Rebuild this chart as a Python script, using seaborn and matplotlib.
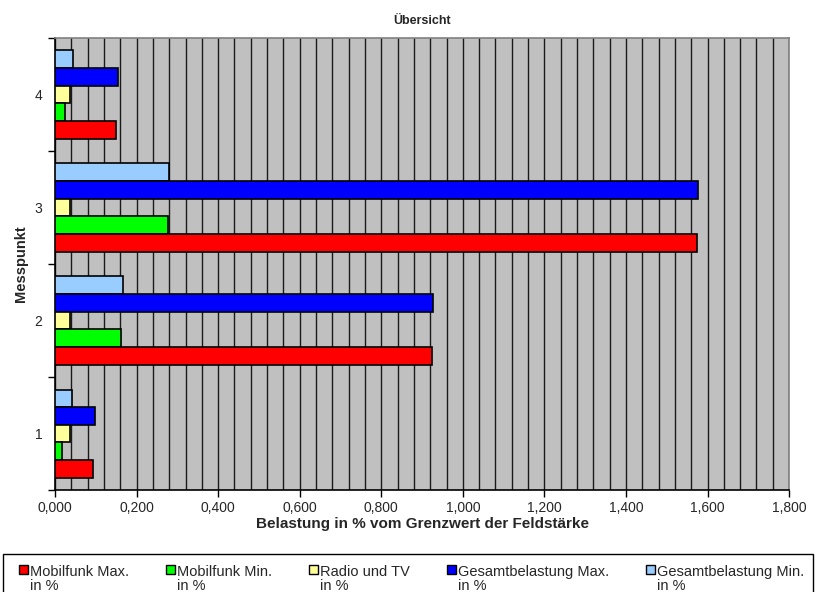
import matplotlib
matplotlib.use('Agg')
import pandas as pd
import numpy as np
import matplotlib.pyplot as plt
import seaborn as sns
from matplotlib.patches import Patch, Rectangle

# data
messpunkte = ['1', '2', '3', '4']
series = ['Mobilfunk Max.\nin %', 'Mobilfunk Min.\nin %', 'Radio und TV\nin %',
          'Gesamtbelastung Max.\nin %', 'Gesamtbelastung Min.\nin %']
mobil_max = [0.092, 0.925, 1.575, 0.149]
mobil_min = [0.016, 0.162, 0.277, 0.024]
radio_tv = [0.037, 0.037, 0.037, 0.036]
gesamt_max = [0.099, 0.927, 1.576, 0.154]
gesamt_min = [0.042, 0.167, 0.280, 0.045]
colors = ['#FF0000', '#00FF00', '#FFFF99', '#0000FF', '#99CCFF']

values = [mobil_max, mobil_min, radio_tv, gesamt_max, gesamt_min]
rows = []
for s, vals in zip(series, values):
    for m, v in zip(messpunkte, vals):
        rows.append({'Messpunkt': m, 'Serie': s, 'Wert': v})
df = pd.DataFrame(rows)

sns.set_style('white')
plt.rcParams['font.family'] = ['Liberation Sans', 'DejaVu Sans']

fig = plt.figure(figsize=(8.16, 5.92), dpi=100)
ax = fig.add_axes([0.0674, 0.172, 0.8996, 0.764])
ax.set_facecolor('#C0C0C0')

palette = dict(zip(series, colors))
sns.barplot(data=df, y='Messpunkt', x='Wert', hue='Serie', orient='h',
            order=messpunkte[::-1], hue_order=series[::-1], palette=palette,
            width=0.78, dodge=True, edgecolor='black', linewidth=1.2,
            saturation=1, errorbar=None, legend=False, ax=ax, zorder=3)

ax.set_xlim(0, 1.8)
ax.set_ylim(3.5, -0.5)
ticks = np.arange(0, 1.81, 0.2)
ax.set_xticks(ticks)
ax.set_xticklabels([f"{v:.3f}".replace('.', ',') for v in ticks], fontsize=10)
ax.set_xticks(np.arange(0, 1.8001, 0.04), minor=True)
ax.xaxis.grid(True, which='both', color='#1a1a1a', linewidth=1.0, zorder=0)
ax.set_axisbelow(True)
ax.tick_params(axis='x', which='major', direction='out', length=5, width=1,
               color='black', bottom=True, pad=2.5)
ax.tick_params(axis='x', which='minor', length=0)

# y ticks between the groups, labels at group centres
ax.set_yticks([-0.5, 0.5, 1.5, 2.5, 3.5])
ax.set_yticklabels([])
ax.set_yticks([0, 1, 2, 3], minor=True)
ax.set_yticklabels(messpunkte[::-1], minor=True, fontsize=10)
ax.tick_params(axis='y', which='major', direction='out', length=5, width=1,
               color='black', left=True)
ax.tick_params(axis='y', which='minor', length=0, pad=9)

for side in ['left', 'bottom']:
    ax.spines[side].set_color('black')
    ax.spines[side].set_linewidth(1.2)
for side in ['top', 'right']:
    ax.spines[side].set_visible(True)
    ax.spines[side].set_color('#808080')
    ax.spines[side].set_linewidth(1.2)

ax.set_title('Übersicht', fontsize=9, fontweight='bold', pad=10)
ax.set_xlabel('Belastung in % vom Grenzwert der Feldstärke', fontsize=11,
              fontweight='bold', labelpad=1.5)
ax.set_ylabel('Messpunkt', fontsize=10.5, fontweight='bold', labelpad=5)

# legend frame across the bottom, running off the lower edge
fig.patches.append(Rectangle((3 / 816, -0.05), 810 / 816, 0.05 + 38 / 592,
                             transform=fig.transFigure, fill=False,
                             edgecolor='black', linewidth=1.0))

handles = [Patch(facecolor=c, edgecolor='black', linewidth=1) for c in colors]
leg = fig.legend(handles, series, ncol=5, loc='upper left',
                 bbox_to_anchor=(19 / 816, 0.0, 785 / 816, 27 / 592), mode='expand',
                 frameon=False, fontsize=10.5,
                 handlelength=0.6, handleheight=0.6, handletextpad=0.15,
                 borderpad=0, labelspacing=0.2, borderaxespad=0)
for t in leg.get_texts():
    t.set_linespacing(1.0)
# square next to the first text line, as in the reference
for col in leg._legend_handle_box.get_children():
    for item in col.get_children():
        item.align = 'top'

fig.savefig('out.png', dpi=100)
plt.close()
